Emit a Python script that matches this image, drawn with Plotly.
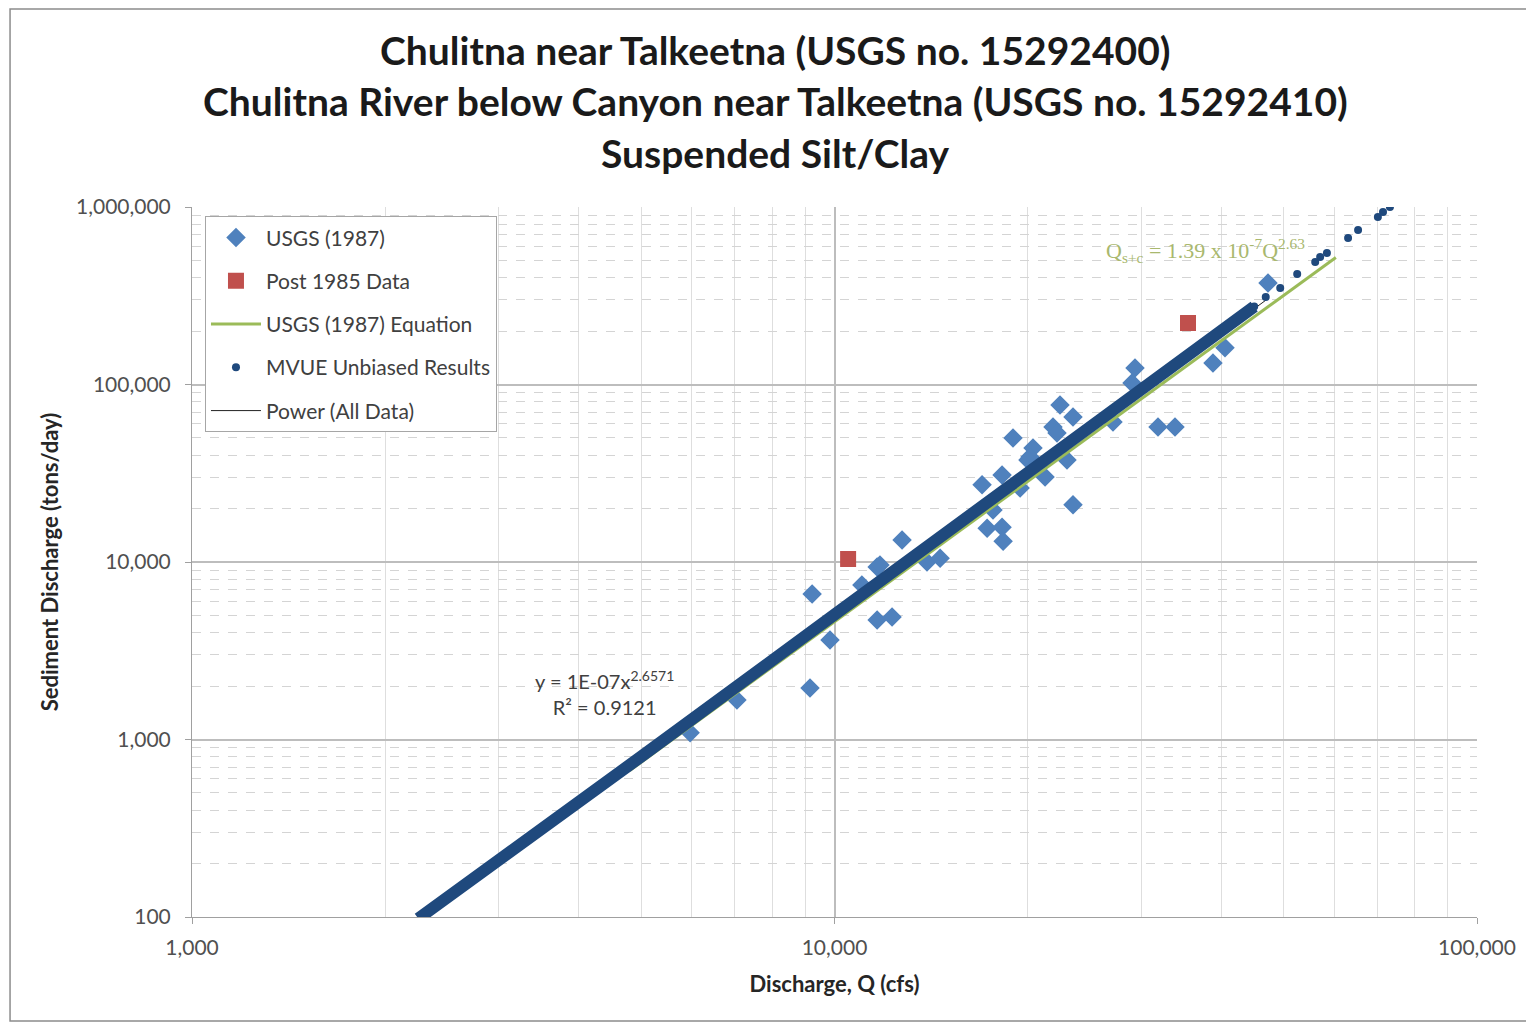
import plotly.graph_objects as go

# ---- Data ----
usgs_q = [5960, 7050, 9160, 9230, 9840, 11650, 12290, 11650, 11030, 11770, 12740, 13930,
          14600, 16970, 18230, 18960, 17650, 17280, 18230, 18300, 20370, 20150, 19450,
          21270, 22440, 23510, 21880, 22200, 23010, 23510, 27130, 31880, 33880, 29040,
          29360, 38820, 40530, 47280, 20000]
usgs_s = [1090, 1670, 1950, 6600, 3640, 4710, 4900, 9370, 7420, 9620, 13300, 10000,
          10500, 27200, 30900, 50000, 19600, 15500, 15700, 13100, 43900, 39000, 26100,
          30100, 76700, 65600, 57600, 53300, 37500, 21000, 61500, 57600, 57600, 102000,
          124000, 132000, 161000, 373000, 37500]

post85_q = [10500, 35500]
post85_s = [10400, 222000]

eq_q = [4800, 60300]
eq_s = [668, 519600]

# dense MVUE band (continuous run of points)
mvue_band_q = [2250, 3000, 5000, 10000, 20000, 30000, 45000]
mvue_band_s = [98, 206, 801, 5050, 31860, 93600, 274900]
# sparse MVUE points at the high end
mvue_q = [45000, 46900, 49400, 52500, 56000, 57000, 58400, 63000, 65300, 70100, 71400, 73200]
mvue_s = [274900, 311000, 350000, 419000, 490000, 523000, 551000, 669000, 741000, 878000, 937000, 1000000]

power_q = [2300, 47300]
power_s = [102, 305000]

x_ticks = [1000, 10000, 100000]
x_labels = ["1,000", "10,000", "100,000"]
y_ticks = [100, 1000, 10000, 100000, 1000000]
y_labels = ["100", "1,000", "10,000", "100,000", "1,000,000"]

title_lines = ["Chulitna near Talkeetna (USGS no. 15292400)",
               "Chulitna River below Canyon near Talkeetna (USGS no. 15292410)",
               "Suspended Silt/Clay"]
title_y = [1.2211, 1.1493, 1.0761]

BLUE = "#4f81bd"
RED = "#c0504d"
GREEN = "#9bbb59"
DARK = "#1f497d"

fig = go.Figure()

# power trendline lies beneath the MVUE band
fig.add_trace(go.Scatter(x=power_q, y=power_s, mode="lines", showlegend=False,
                         line=dict(color="#222222", width=1), hoverinfo="skip"))
fig.add_trace(go.Scatter(x=usgs_q, y=usgs_s, mode="markers", name="USGS (1987)",
                         legendgroup="a",
                         marker=dict(symbol="diamond", size=15, color=BLUE)))
fig.add_trace(go.Scatter(x=post85_q, y=post85_s, mode="markers", name="Post 1985 Data",
                         legendgroup="b",
                         marker=dict(symbol="square", size=16, color=RED)))
fig.add_trace(go.Scatter(x=eq_q, y=eq_s, mode="lines", name="USGS (1987) Equation",
                         legendgroup="c",
                         line=dict(color=GREEN, width=3)))
fig.add_trace(go.Scatter(x=mvue_band_q, y=mvue_band_s, mode="lines", showlegend=False,
                         legendgroup="d",
                         line=dict(color=DARK, width=12)))
fig.add_trace(go.Scatter(x=mvue_q, y=mvue_s, mode="markers", name="MVUE Unbiased Results",
                         legendgroup="d",
                         marker=dict(symbol="circle", size=8, color=DARK)))
# legend entry for the power trendline
fig.add_trace(go.Scatter(x=[None], y=[None], mode="lines", name="Power (All Data)",
                         legendgroup="e",
                         line=dict(color="#222222", width=1)))

font_main = "Lato, 'Open Sans', sans-serif"

# page has an 8px body margin: figure is sized/margined so plot area lands as in reference
fig.update_layout(
    width=1526, height=1016,
    paper_bgcolor="white", plot_bgcolor="white",
    margin=dict(l=184, r=57, t=199, b=107, autoexpand=False),
    font=dict(family=font_main, color="#404040"),
    showlegend=True,
    legend=dict(x=0.0101, y=0.987, xanchor="left", yanchor="top",
                bgcolor="white", bordercolor="#a6a6a6", borderwidth=1,
                font=dict(size=21, color="#404040", family=font_main),
                traceorder="grouped", tracegroupgap=13,
                itemwidth=50),
    xaxis=dict(type="log", range=[3, 5],
               tickvals=x_ticks, ticktext=x_labels,
               ticks="outside", ticklen=6, tickcolor="#a0a0a0",
               ticklabelstandoff=6,
               tickfont=dict(size=21, color="#505050"),
               showgrid=True, gridcolor="#bdbdbd", gridwidth=1.8,
               showline=True, linecolor="#a0a0a0",
               minor=dict(dtick="D1", showgrid=True, gridcolor="#dedede", gridwidth=1,
                          ticks=""),
               title=dict(text="<b>Discharge, Q (cfs)</b>",
                          font=dict(size=22, color="#262626"), standoff=18),
               zeroline=False),
    yaxis=dict(type="log", range=[2, 6],
               tickvals=y_ticks, ticktext=y_labels,
               ticks="outside", ticklen=6, tickcolor="#a0a0a0",
               ticklabelstandoff=10,
               tickfont=dict(size=21, color="#505050"),
               showgrid=True, gridcolor="#bdbdbd", gridwidth=1.8,
               showline=True, linecolor="#a0a0a0",
               minor=dict(dtick="D1", showgrid=True, gridcolor="#d4d4d4", gridwidth=1,
                          griddash="dash", ticks=""),
               title=dict(text="<b>Sediment Discharge (tons/day)</b>",
                          font=dict(size=22, color="#262626"), standoff=11),
               zeroline=False),
)

for line, yy in zip(title_lines, title_y):
    fig.add_annotation(x=0.4537, y=yy, xref="paper", yref="paper",
                       xanchor="center", yanchor="middle",
                       text="<b>" + line + "</b>", showarrow=False,
                       font=dict(size=39, color="#1a1a1a", family=font_main))

# trendline equation label (log axes: annotation positions in log10 units)
fig.add_annotation(x=3.642, y=3.262, xref="x", yref="y",
                   text="y = 1E-07x<sup>2.6571</sup><br>R² = 0.9121",
                   showarrow=False, align="center",
                   font=dict(size=20, color="#404040", family=font_main))
fig.add_annotation(x=4.5767, y=5.7577, xref="x", yref="y",
                   text="Q<sub>s+c</sub> = 1.39 x 10<sup>-7</sup>Q<sup>2.63</sup>",
                   showarrow=False,
                   font=dict(size=22, color="#a9b86e", family="Liberation Serif, serif"))

# outer chart border
fig.add_shape(type="rect", xref="paper", yref="paper",
              x0=-0.1416, x1=1.0412, y0=-0.1465, y1=1.2789,
              line=dict(color="#8c8c8c", width=1.5), fillcolor="rgba(0,0,0,0)")

fig.write_html("out.html")
